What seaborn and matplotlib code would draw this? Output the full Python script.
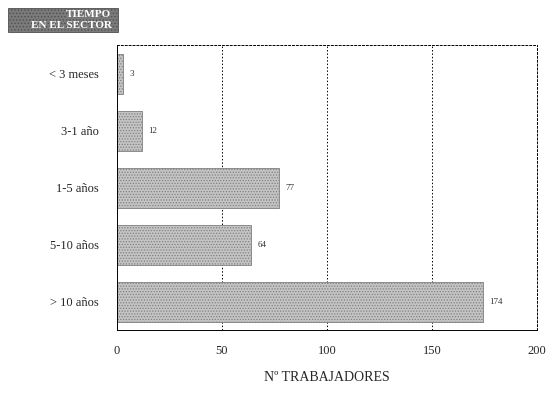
import matplotlib as mpl
import matplotlib.pyplot as plt
import numpy as np
import pandas as pd
import seaborn as sns

categories = ["< 3 meses", "3-1 año", "1-5 años", "5-10 años", "> 10 años"]
workers = [3, 12, 77, 64, 174]
x_ticks = [0, 50, 100, 150, 200]

sns.set_style("white")
mpl.rcParams.update(
    {
        "font.family": ["Liberation Serif", "DejaVu Serif"],
        "font.size": 9,
        "hatch.linewidth": 0.6,
    }
)

df = pd.DataFrame({"tiempo": categories, "n": workers})

fig = plt.figure(figsize=(5.51, 4.03), dpi=100)
ax = fig.add_axes([0.212, 0.181, 0.763, 0.707])

sns.barplot(
    df,
    x="n",
    y="tiempo",
    order=categories,
    color="#c4c4c4",
    saturation=1,
    width=0.7,
    edgecolor="#808080",
    linewidth=0.6,
    ax=ax,
)
for bar in ax.patches:
    bar.set_hatch("......")

for i, v in enumerate(workers):
    ax.text(v + 3, i, str(v), va="center", ha="left", fontsize=6.5, color="#333333")

ax.set_xlim(0, 200)
ax.set_ylim(4.5, -0.5)
ax.set_xticks(x_ticks)
ax.set_xticklabels([str(t) for t in x_ticks])
for gx in x_ticks[1:-1]:
    ax.axvline(gx, color="black", linestyle=(0, (1.5, 2)), linewidth=0.7, zorder=0)

for side, spine in ax.spines.items():
    spine.set_visible(True)
    spine.set_color("black")
    spine.set_linewidth(0.7)
    if side in ("top", "right"):
        spine.set_linestyle((0, (2, 2)))
ax.tick_params(axis="both", length=3, width=0.7, color="black", labelsize=9, pad=10)
ax.tick_params(axis="x", pad=8)
ax.set_ylabel("")
ax.set_xlabel("Nº TRABAJADORES", fontsize=10, labelpad=10)

# title badge in the top-left corner
badge = mpl.patches.Rectangle(
    (0.0145, 0.921), 0.2, 0.059, transform=fig.transFigure,
    facecolor="#7a7a7a", edgecolor="#505050", hatch=".....", linewidth=0.6,
)
fig.add_artist(badge)
fig.text(0.16, 0.963, "TIEMPO", ha="center", va="center", fontsize=8,
         color="white", fontweight="bold")
fig.text(0.13, 0.936, "EN EL SECTOR", ha="center", va="center", fontsize=8,
         color="white", fontweight="bold")

fig.savefig("out.png", dpi=100)
